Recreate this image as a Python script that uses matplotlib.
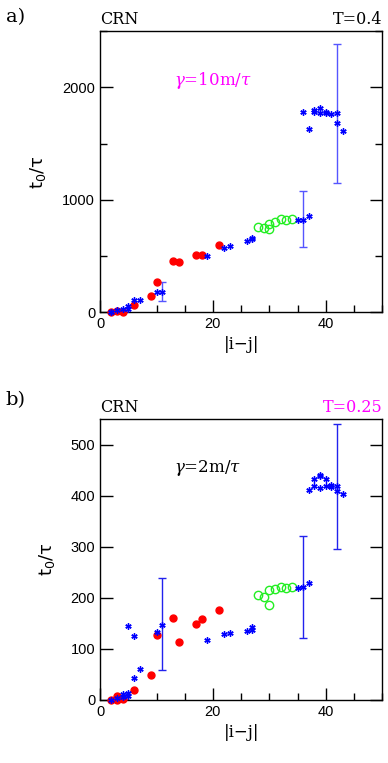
import numpy as np
import matplotlib
matplotlib.use("Agg")
import matplotlib.pyplot as plt
from matplotlib.ticker import MultipleLocator

plt.rcParams['mathtext.fontset'] = 'dejavuserif'

# ---- panel a: T=0.4, gamma=10m/tau ----
a_red_x = [2, 3, 4, 6, 9, 10, 13, 14, 17, 18, 21]
a_red_y = [0, 10, 5, 62, 145, 267, 457, 448, 504, 507, 593]
a_blue_x = [2, 2, 3, 4, 5, 5, 6, 7, 10, 11, 19, 22, 23, 26, 27, 27, 35, 36, 37,
            36, 37, 38, 38, 39, 39, 40, 40, 41, 42, 42, 43]
a_blue_y = [0, 3, 18, 30, 50, 24, 107, 104, 175, 181, 501, 570, 585, 632, 656, 647, 819, 819, 858,
            1783, 1626, 1801, 1777, 1813, 1769, 1783, 1769, 1760, 1769, 1685, 1610]
a_green_x = [28, 29, 30, 30, 31, 32, 33, 34]
a_green_y = [760, 751, 783, 736, 801, 825, 819, 828]
a_err_x = [11, 36, 42]
a_err_y = [180, 826, 1768]
a_err = [85, 248, 617]

# ---- panel b: T=0.25, gamma=2m/tau ----
b_red_x = [2, 3, 3, 4, 6, 9, 10, 13, 14, 17, 18, 21]
b_red_y = [0, 8, 0, 2, 20, 48, 128, 160, 113, 148, 158, 176]
b_blue_x = [2, 3, 4, 4, 5, 5, 5, 6, 6, 7, 10, 11, 19, 22, 23, 26, 27, 27, 35, 36, 37,
            37, 38, 38, 39, 39, 39, 40, 40, 41, 41, 42, 42, 43]
b_blue_y = [0, 3, 12, 5, 14, 8, 144, 43, 126, 60, 133, 147, 117, 129, 131, 135, 142, 137, 220, 221, 230,
            412, 433, 419, 441, 438, 415, 432, 419, 422, 417, 419, 409, 404]
b_green_x = [28, 29, 30, 30, 31, 32, 33, 34]
b_green_y = [205, 201, 215, 187, 218, 221, 220, 222]
b_err_x = [11, 36, 42]
b_err_y = [148, 222, 418]
b_err = [90, 100, 123]

serif = ['DejaVu Serif']
sans = ['Liberation Sans', 'DejaVu Sans']

fig = plt.figure(figsize=(3.88, 7.63), dpi=100)
ax1 = fig.add_axes([0.258, 0.591, 0.727, 0.368])
ax2 = fig.add_axes([0.258, 0.0826, 0.727, 0.368])


def panel(ax, rx, ry, bx, by, gx, gy, ex, ey, ee, ecol, ymax, ymaj, ymin):
    ax.errorbar(ex, ey, yerr=ee, fmt='none', ecolor=ecol, elinewidth=1.0,
                capsize=3, capthick=1.0, zorder=1)
    ax.plot(rx, ry, 'o', color='red', ms=5, mec='red', zorder=3, clip_on=False)
    ax.plot(bx, by, ls='none', marker=(6, 2, 0), color='blue', ms=4.5, mew=1.0,
            zorder=3, clip_on=False)
    ax.plot(gx, gy, 'o', mfc='none', mec='#22ee22', ms=6, mew=1.0, zorder=2)
    ax.set_xlim(0, 50)
    ax.set_ylim(0, ymax)
    ax.xaxis.set_major_locator(MultipleLocator(20))
    ax.xaxis.set_minor_locator(MultipleLocator(5))
    ax.yaxis.set_major_locator(MultipleLocator(ymaj))
    if ymin:
        ax.yaxis.set_minor_locator(MultipleLocator(ymin))
    ax.tick_params(which='both', direction='in', right=True, top=False, labelsize=10.5)
    ax.tick_params(which='major', length=9, width=1)
    ax.tick_params(which='minor', length=5, width=1)
    for lab in ax.get_xticklabels() + ax.get_yticklabels():
        lab.set_family(sans)
    ax.set_xlabel('|i\u2212j|', family=serif, fontsize=12)
    ax.set_ylabel(r'$\mathregular{t_0/\tau}$', fontsize=13, labelpad=10)
    for s in ax.spines.values():
        s.set_linewidth(1.0)


panel(ax1, a_red_x, a_red_y, a_blue_x, a_blue_y, a_green_x, a_green_y,
      a_err_x, a_err_y, a_err, '#5555ff', 2500, 1000, 500)
panel(ax2, b_red_x, b_red_y, b_blue_x, b_blue_y, b_green_x, b_green_y,
      b_err_x, b_err_y, b_err, '#2222ee', 550, 100, None)

ax1.text(0, 1.01, 'CRN', transform=ax1.transAxes, family=serif, fontsize=11.5, va='bottom')
ax1.text(1.0, 1.01, 'T=0.4', transform=ax1.transAxes, family=serif, fontsize=11.5,
         va='bottom', ha='right')
ax1.text(20, 2060, r'$\gamma$=10m/$\tau$', color='magenta', family=serif, fontsize=12,
         ha='center', va='center')
ax2.text(0, 1.01, 'CRN', transform=ax2.transAxes, family=serif, fontsize=11.5, va='bottom')
ax2.text(1.0, 1.01, 'T=0.25', transform=ax2.transAxes, family=serif, fontsize=11.5,
         va='bottom', ha='right', color='magenta')
ax2.text(19, 455, r'$\gamma$=2m/$\tau$', color='black', family=serif, fontsize=12,
         ha='center', va='center')

fig.text(0.015, 0.978, 'a)', family=serif, fontsize=14, va='center')
fig.text(0.015, 0.476, 'b)', family=serif, fontsize=14, va='center')

fig.savefig('out.png', dpi=100)
